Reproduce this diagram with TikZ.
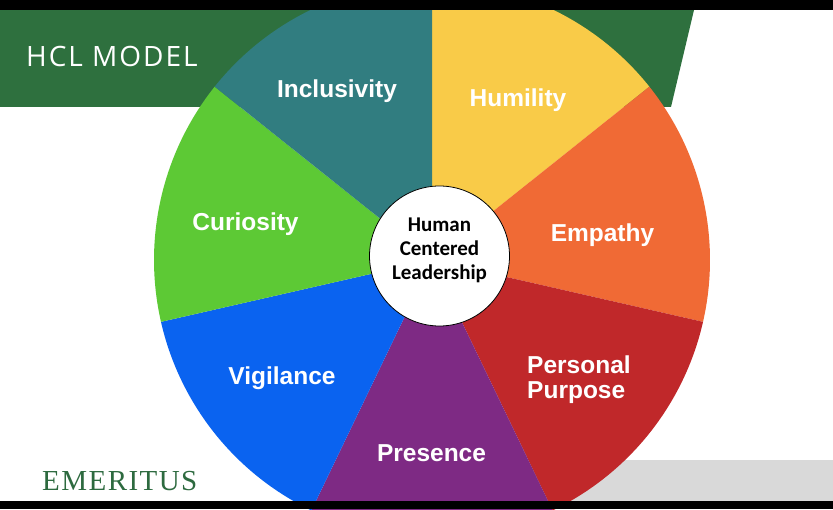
\documentclass[tikz,border=0pt]{standalone}
\usepackage{fontspec}
\setmainfont{Liberation Sans}
\newfontfamily\titlefont{Open Sans}[LetterSpace=7]
\newfontfamily\hubfont{Carlito}
\newfontfamily\logofont{Liberation Serif}[LetterSpace=5]
\definecolor{bannergreen}{RGB}{46,112,62}
\definecolor{logogreen}{RGB}{45,106,63}
\definecolor{inclcol}{RGB}{49,125,128}
\definecolor{humcol}{RGB}{249,203,72}
\definecolor{empcol}{RGB}{240,106,53}
\definecolor{purpcol}{RGB}{192,40,42}
\definecolor{prescol}{RGB}{126,42,132}
\definecolor{vigcol}{RGB}{10,99,240}
\definecolor{curcol}{RGB}{93,201,53}
\definecolor{bandgray}{RGB}{217,217,217}

\begin{document}
\begin{tikzpicture}[x=1pt, y=1pt,
    petal/.style={text=white, inner sep=0pt, font=\bfseries\fontsize{24.5}{25}\selectfont},
    hub/.style={inner sep=0pt, font=\hubfont\bfseries\fontsize{21}{24}\selectfont}]
	\useasboundingbox (0,0) rectangle (833,509);
	\clip (0,0) rectangle (833,509);
	\fill[white] (0,0) rectangle (833,509);
	% slide background
	\fill[bandgray] (480,8) rectangle (833,49);
	\fill[bannergreen] (0,499) -- (694,499) -- (671,402) -- (0,402) -- cycle;
	% the wheel
	\coordinate (w) at (432,249);
	\fill[humcol] (w) -- ++(90:278) arc[start angle=90, end angle=38.571, radius=278] -- cycle;
	\fill[empcol] (w) -- ++(38.571:278) arc[start angle=38.571, end angle=-12.857, radius=278] -- cycle;
	\fill[purpcol] (w) -- ++(-12.857:278) arc[start angle=-12.857, end angle=-64.286, radius=278] -- cycle;
	\fill[prescol] (w) -- ++(-64.286:278) arc[start angle=-64.286, end angle=-115.714, radius=278] -- cycle;
	\fill[vigcol] (w) -- ++(-115.714:278) arc[start angle=-115.714, end angle=-167.143, radius=278] -- cycle;
	\fill[curcol] (w) -- ++(192.857:278) arc[start angle=192.857, end angle=141.429, radius=278] -- cycle;
	\fill[inclcol] (w) -- ++(141.429:278) arc[start angle=141.429, end angle=90, radius=278] -- cycle;
	\node[circle, draw=black, line width=0.8pt, fill=white, minimum size=140pt, inner sep=0pt] (hub) at (439.5,253) {};
	% black bars
	\fill[black] (0,499) rectangle (833,509);
	\fill[black] (0,0) rectangle (833,8);
	% labels
	\node[petal, anchor=base] (incl) at (337,411) {Inclusivity};
	\node[petal, anchor=base] (hum) at (518,402) {Humility};
	\node[petal, anchor=base] (emp) at (602.5,267) {Empathy};
	\node[petal, anchor=base west] (purpA) at (527,135) {Personal};
	\node[petal, anchor=base west] (purpB) at (527,110) {Purpose};
	\node[petal, anchor=base] (pres) at (431.5,48) {Presence};
	\node[petal, anchor=base] (vig) at (282,124) {Vigilance};
	\node[petal, anchor=base] (cur) at (245.5,278) {Curiosity};
	\node[hub, anchor=base] (hubA) at (439.5,277) {Human};
	\node[hub, anchor=base] (hubB) at (439.5,253) {Centered};
	\node[hub, anchor=base] (hubC) at (439.5,229) {Leadership};
	\node[anchor=base west, inner sep=0pt, text=white, font=\titlefont\fontsize{28}{30}\selectfont] (title) at (26,442) {HCL MODEL};
	\node[anchor=base west, inner sep=0pt, text=logogreen, font=\logofont\fontsize{29}{30}\selectfont] (logo) at (42,19) {EMERITUS};
\end{tikzpicture}
\end{document}
